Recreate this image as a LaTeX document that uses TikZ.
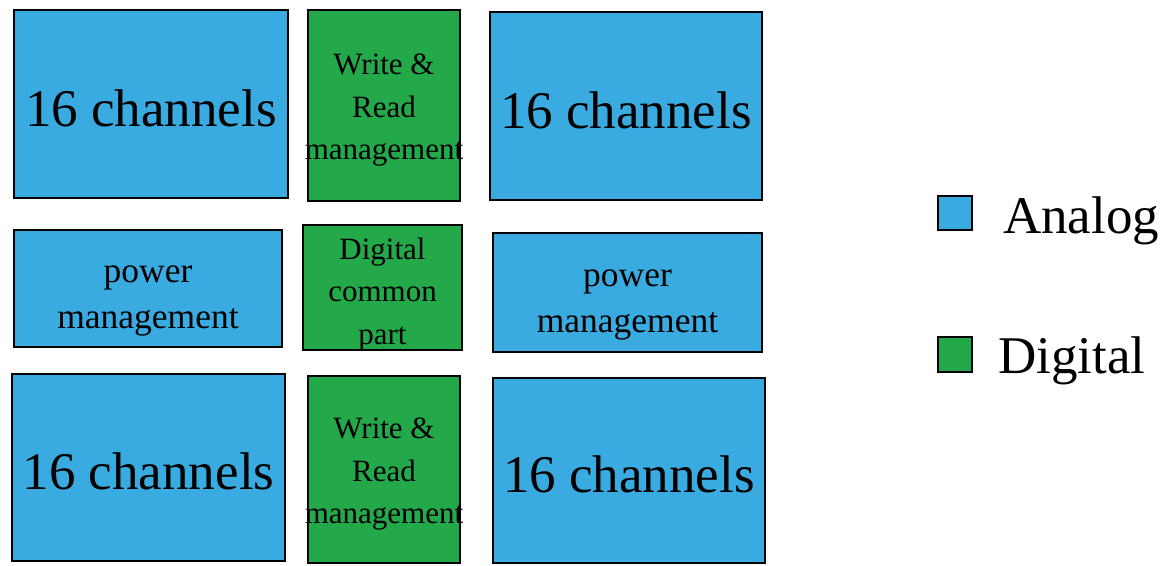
\documentclass[tikz,border=0pt]{standalone}
\usepackage{fontspec}
\setmainfont{Liberation Serif}
\definecolor{analog}{HTML}{3AABE0}
\definecolor{digital}{HTML}{23A84A}
\begin{document}
\begin{tikzpicture}[x=1pt,y=-1pt,
  blk/.style={draw=black,line width=1.8pt,inner sep=0pt},
  ana/.style={blk,fill=analog},
  dig/.style={blk,fill=digital},
  txt/.style={inner sep=0pt,align=center,text=black},
  big/.style={txt,font=\fontsize{53}{60}\selectfont},
  pwr/.style={txt,font=\fontsize{35.5}{46}\selectfont},
  sml/.style={txt,font=\fontsize{31}{42.5}\selectfont},
  leg/.style={font=\fontsize{53}{60}\selectfont,anchor=base west,inner sep=0pt}]
\useasboundingbox (0,0) rectangle (1161,565);
% top row
\node[ana,minimum width=274pt,minimum height=188pt] (tl) at (151,104) {};
\node[dig,minimum width=152pt,minimum height=191pt] (tm) at (384,105.5) {};
\node[ana,minimum width=272pt,minimum height=188pt] (tr) at (626,106) {};
% middle row
\node[ana,minimum width=268pt,minimum height=117pt] (ml) at (148,288.5) {};
\node[dig,minimum width=159pt,minimum height=125pt] (mm) at (382.5,287.5) {};
\node[ana,minimum width=269pt,minimum height=119pt] (mr) at (627.5,292.5) {};
% bottom row
\node[ana,minimum width=273pt,minimum height=187pt] (bl) at (148.5,467.5) {};
\node[dig,minimum width=152pt,minimum height=187pt] (bm) at (384,469.5) {};
\node[ana,minimum width=272pt,minimum height=185pt] (br) at (629,470.5) {};
% texts
\node[big] (tlt) at ([yshift=-4pt]tl.center) {16 channels};
\node[sml] (tmt) at ([yshift=-5pt]tm.center) {Write \&\\Read\\management};
\node[big] (trt) at ([yshift=-4pt]tr.center) {16 channels};
\node[pwr] (mlt) at ([yshift=-12pt]ml.center) {power\\management};
\node[sml] (mmt) at ([yshift=-7pt]mm.center) {Digital\\common\\part};
\node[pwr] (mrt) at ([yshift=-12pt]mr.center) {power\\management};
\node[big] (blt) at ([yshift=-4pt]bl.center) {16 channels};
\node[sml] (bmt) at ([yshift=-5pt]bm.center) {Write \&\\Read\\management};
\node[big] (brt) at ([yshift=-4pt]br.center) {16 channels};
% legend
\node[ana,minimum width=34pt,minimum height=34pt] (la) at (955,213) {};
\node[leg] (lat) at (1003,233) {Analog};
\node[dig,minimum width=34pt,minimum height=35pt] (ld) at (955,354.5) {};
\node[leg] (ldt) at (998,373) {Digital};
\end{tikzpicture}
\end{document}
